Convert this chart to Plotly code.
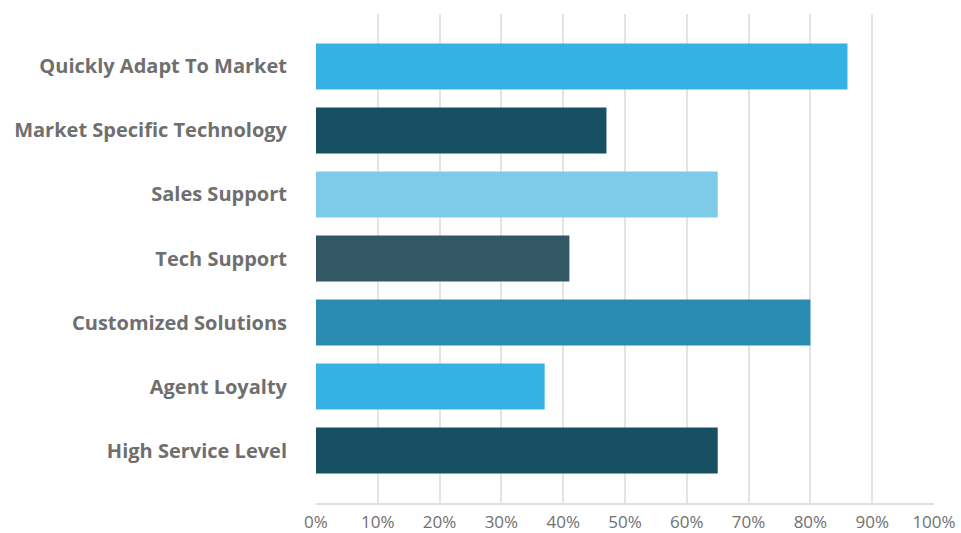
import plotly.graph_objects as go

categories = [
    "Quickly Adapt To Market",
    "Market Specific Technology",
    "Sales Support",
    "Tech Support",
    "Customized Solutions",
    "Agent Loyalty",
    "High Service Level",
]
values = [86, 47, 65, 41, 80, 37, 65]
bar_colors = ["#35B2E3", "#174F63", "#7ECBE9", "#335865", "#2A8CB0", "#35B2E3", "#174F63"]
x_ticks = list(range(0, 101, 10))
x_tick_labels = [f"{v}%" for v in x_ticks]

fig = go.Figure(
    go.Bar(
        x=values,
        y=categories,
        orientation="h",
        marker=dict(color=bar_colors, line=dict(width=0)),
        width=0.72,
        hoverinfo="x+y",
    )
)

fig.update_layout(
    width=961,
    height=533,
    margin=dict(l=316, r=27, t=14, b=30),
    paper_bgcolor="white",
    plot_bgcolor="white",
    showlegend=False,
    font=dict(family="Open Sans, sans-serif", color="#6f6f6f"),
)

fig.update_xaxes(
    range=[0, 100],
    tickvals=x_ticks,
    ticktext=x_tick_labels,
    showgrid=True,
    gridcolor="#e4e4e4",
    gridwidth=2,
    zeroline=False,
    showline=True,
    linecolor="#e0e0e0",
    linewidth=2,
    ticks="",
    automargin=False,
    ticklabelstandoff=3,
    tickfont=dict(size=17, color="#707070"),
)

fig.update_yaxes(
    categoryorder="array",
    categoryarray=categories,
    autorange=False,
    range=[6.82, -0.82],
    showgrid=False,
    zeroline=False,
    showline=False,
    ticks="",
    automargin=False,
    ticklabelstandoff=28,
    tickfont=dict(size=20, color="#6f6f6f", family="Open Sans, sans-serif", weight="bold"),
)

fig.write_html("out.html")
